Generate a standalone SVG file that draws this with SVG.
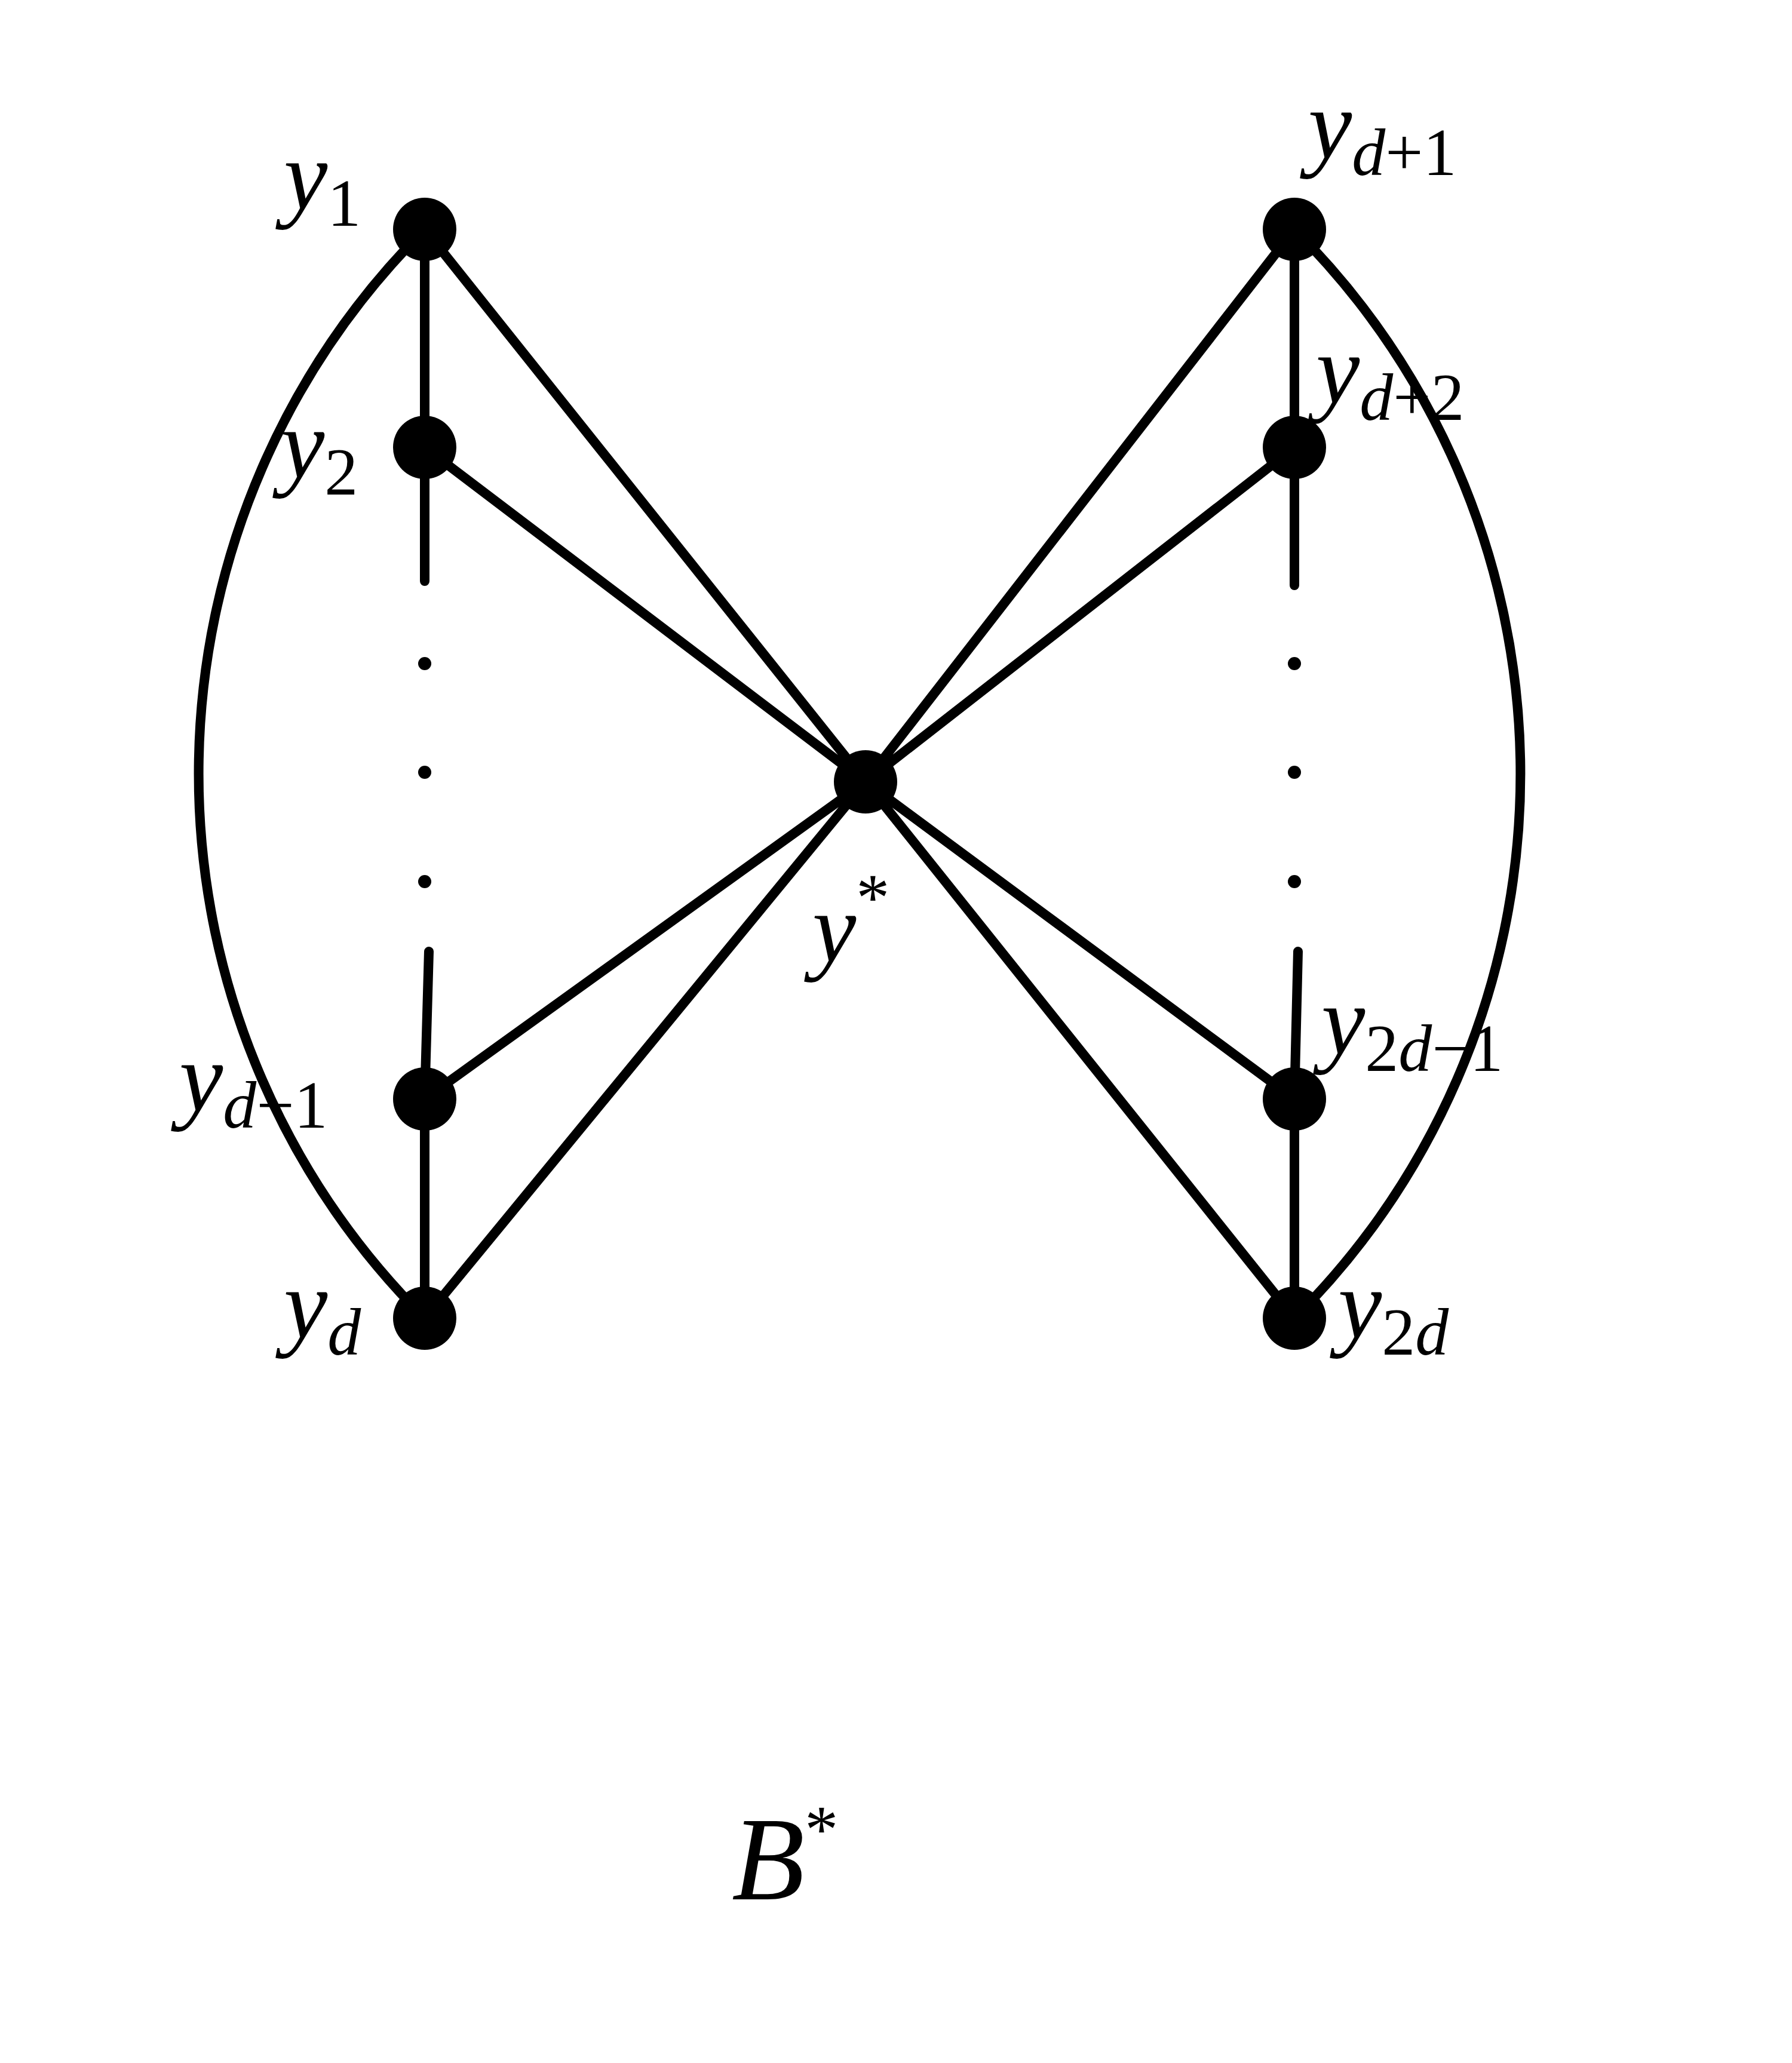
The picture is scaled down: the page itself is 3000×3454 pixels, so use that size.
<svg xmlns="http://www.w3.org/2000/svg" width="3000" height="3454" viewBox="0 0 3000 3454">
<style>
.e{stroke:#000;stroke-width:16;fill:none;stroke-linecap:round}
.n{fill:#000}
text{font-family:"Liberation Serif",serif;font-style:italic;font-size:165px;fill:#000}
.s{font-style:normal;font-size:112px}
.si{font-style:italic;font-size:112px}
</style>
<rect width="3000" height="3454" fill="#fff"/>
<g id="edges">
<path class="e" d="M711 384 L711 973 M718 1593 L711 1840 L711 2207 M2167 384 L2167 980 M2173 1593 L2167 1840 L2167 2207"/>
<path class="e" d="M711 384 L1449 1309 M711 749 L1449 1309 M711 1840 L1449 1309 M711 2207 L1449 1309 M2167 384 L1449 1309 M2167 749 L1449 1309 M2167 1840 L1449 1309 M2167 2207 L1449 1309"/>
<path class="e" d="M711 384 A1287 1287 0 0 0 711 2207 M2167 384 A1287 1287 0 0 1 2167 2207"/>
<g class="n"><circle cx="711" cy="1111" r="11"/><circle cx="711" cy="1293" r="11"/><circle cx="711" cy="1476" r="11"/><circle cx="2167" cy="1111" r="11"/><circle cx="2167" cy="1293" r="11"/><circle cx="2167" cy="1476" r="11"/></g>
</g>
<g id="y1"><circle class="n" cx="711" cy="384" r="53"/><text x="475" y="350">y<tspan class="s" dy="28">1</tspan></text></g>
<g id="y2"><circle class="n" cx="711" cy="749" r="53"/><text x="470" y="800">y<tspan class="s" dy="28">2</tspan></text></g>
<g id="yd-1"><circle class="n" cx="711" cy="1840" r="53"/><text x="300" y="1860">y<tspan class="si" dy="28">d</tspan><tspan class="s">−1</tspan></text></g>
<g id="yd"><circle class="n" cx="711" cy="2207" r="53"/><text x="475" y="2240">y<tspan class="si" dy="28">d</tspan></text></g>
<g id="ystar"><circle class="n" cx="1449" cy="1309" r="53"/><text x="1360" y="1610">y<tspan class="s" dy="-70">*</tspan></text></g>
<g id="yd+1"><circle class="n" cx="2167" cy="384" r="53"/><text x="2190" y="265">y<tspan class="si" dy="28">d</tspan><tspan class="s">+1</tspan></text></g>
<g id="yd+2"><circle class="n" cx="2167" cy="749" r="53"/><text x="2203" y="675">y<tspan class="si" dy="28">d</tspan><tspan class="s">+2</tspan></text></g>
<g id="y2d-1"><circle class="n" cx="2167" cy="1840" r="53"/><text x="2212" y="1765">y<tspan class="s" dy="28">2</tspan><tspan class="si">d</tspan><tspan class="s">−1</tspan></text></g>
<g id="y2d"><circle class="n" cx="2167" cy="2207" r="53"/><text x="2240" y="2240">y<tspan class="s" dy="28">2</tspan><tspan class="si">d</tspan></text></g>
<text x="1225" y="3180" style="font-size:200px">B<tspan class="s" dy="-80">*</tspan></text>
</svg>
